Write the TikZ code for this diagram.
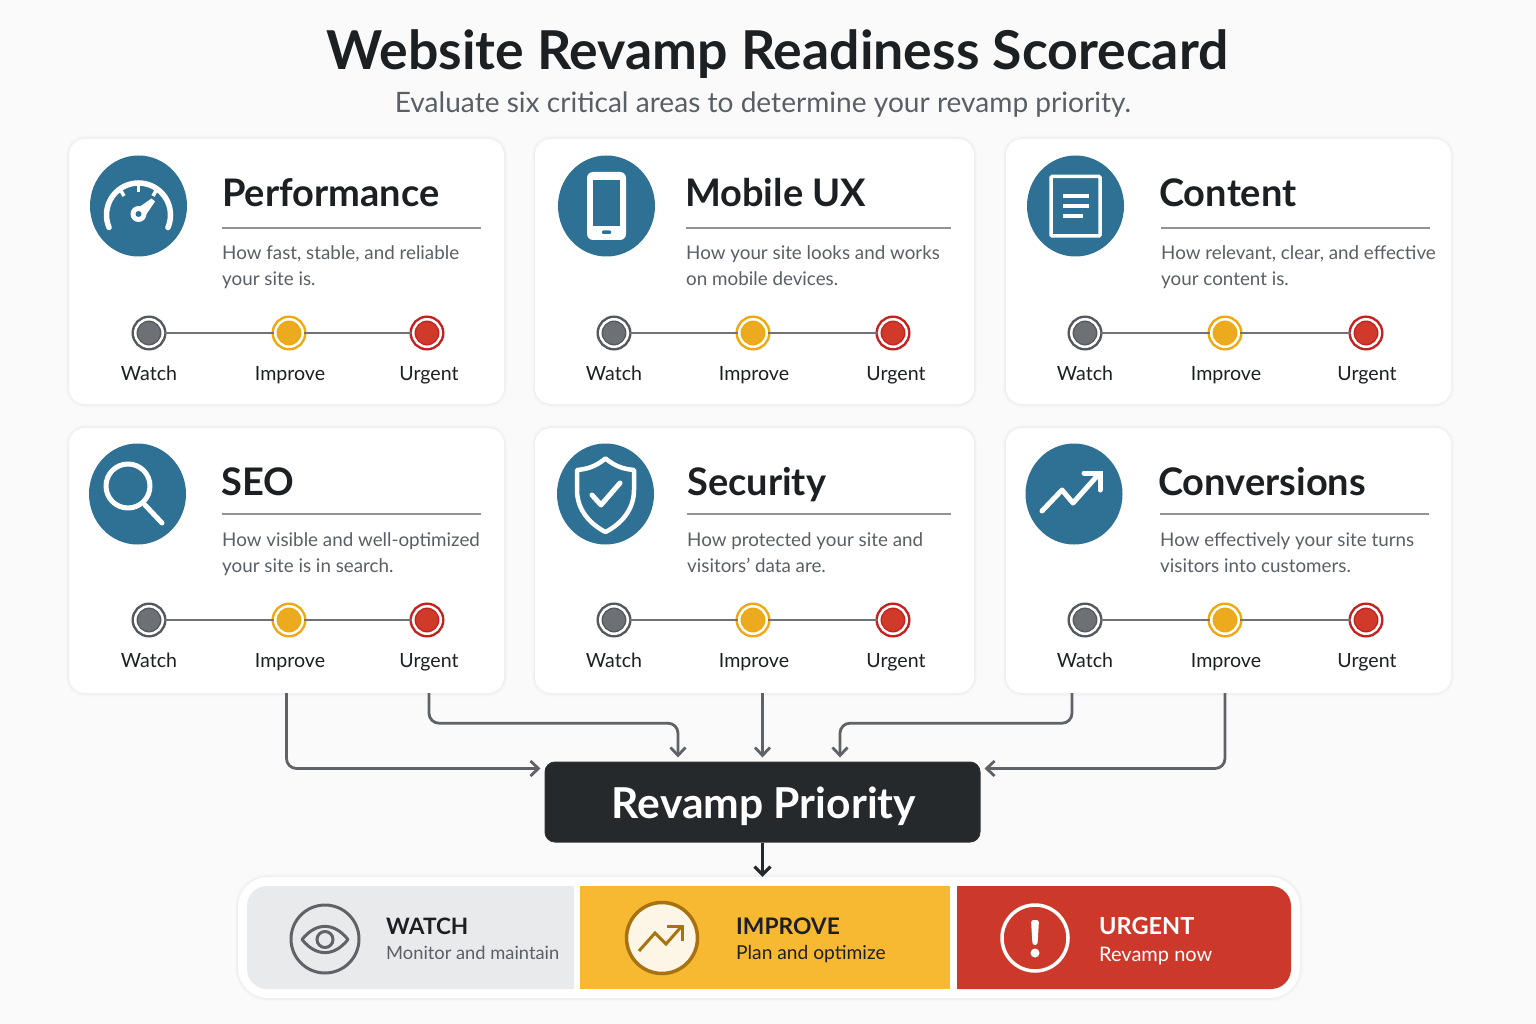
\documentclass[tikz,border=0pt]{standalone}
\usepackage{fontspec}
\setmainfont{Lato}
\usetikzlibrary{arrows.meta,calc,shapes.geometric}
\definecolor{bgc}{HTML}{FAFAFA}
\definecolor{teal}{HTML}{2F7095}
\definecolor{ink}{HTML}{1D2023}
\definecolor{mute}{HTML}{5A5F66}
\definecolor{wire}{HTML}{5F6368}
\definecolor{dark}{HTML}{25292C}
\definecolor{gring}{HTML}{55595E}\definecolor{gfill}{HTML}{6D7074}
\definecolor{yring}{HTML}{EFA80F}\definecolor{yfill}{HTML}{ECAB1F}
\definecolor{rring}{HTML}{C5221F}\definecolor{rfill}{HTML}{CF3A2A}
\definecolor{lgray}{HTML}{E9EAEC}\definecolor{lyellow}{HTML}{F8B932}\definecolor{lred}{HTML}{CC392B}
\definecolor{cream}{HTML}{FDF6E6}\definecolor{ochre}{HTML}{A8720F}
\tikzset{
  softshadow/.style={
    preaction={draw=black,draw opacity=.010,line width=7pt,yshift=-1pt},
    preaction={draw=black,draw opacity=.014,line width=4pt,yshift=-1pt},
    preaction={draw=black,draw opacity=.018,line width=2pt,yshift=-1pt}},
  cardbox/.style={rectangle,fill=white,rounded corners=16pt,inner sep=0pt,softshadow},
  iconbg/.style={ellipse,fill=teal,inner sep=0pt,minimum width=97pt,minimum height=101pt},
  ico/.style={draw=white,line width=#1,line cap=round,line join=round},
  ico/.default=5pt,
  headtxt/.style={anchor=base west,inner sep=0pt,text=ink,font=\fontsize{38}{38}\selectfont\bfseries},
  desctxt/.style={anchor=base west,inner sep=0pt,text=mute,font=\fontsize{18.8}{25.5}\selectfont,align=left},
  rulel/.style={draw=gray!85,line width=1.2pt},
  dotn/.style={circle,inner sep=0pt,minimum size=27.5pt,line width=2.5pt,double=white,double distance=2.5pt},
  scalel/.style={draw=wire!90,line width=2pt},
  statustxt/.style={anchor=base,inner sep=0pt,text=ink,font=\fontsize{19.6}{20}\selectfont},
  flow/.style={draw=wire,line width=2.8pt,rounded corners=10pt,shorten >=4pt,-{Straight Barb[length=8pt,width=15pt,line width=2.8pt]}},
}
\newcommand{\mkcard}[5]{\node[cardbox,minimum width=#4pt-#2pt,minimum height=#5pt-#3pt] (#1) at ({(#2+#4)/2},{(#3+#5)/2}) {};}
\newcommand{\mkhead}[7]{% name, title x, base y, title, rule x1, rule x2, rule y
  \node[headtxt] (#1-t) at (#2,#3) {#4};
  \draw[rulel] (#5,#7) -- (#6,#7);
}
\newcommand{\mkscale}[8]{% name, x1,x2,x3, y, lx1,lx2,lx3
  \node[dotn,draw=gring,fill=none] (#1-w) at (#2,#5) {};
  \node[dotn,draw=yring] (#1-i) at (#3,#5) {};
  \node[dotn,draw=rring] (#1-u) at (#4,#5) {};
  \fill[gfill] (#2,#5) circle (11pt);
  \fill[yfill] (#3,#5) circle (11pt);
  \fill[rfill] (#4,#5) circle (11pt);
  \draw[scalel] (#1-w) -- (#1-i);
  \draw[scalel] (#1-i) -- (#1-u);
  \node[statustxt] (#1-wl) at (#6,#5+47) {Watch};
  \node[statustxt] (#1-il) at (#7,#5+47) {Improve};
  \node[statustxt] (#1-ul) at (#8,#5+47) {Urgent};
}
\begin{document}
\begin{tikzpicture}[x=1pt,y=-1pt]
\useasboundingbox (0,0) rectangle (1536,1024);
\fill[bgc] (0,0) rectangle (1536,1024);
% titles
\node[anchor=base,inner sep=0pt,text=ink,font=\fontsize{53.6}{54}\selectfont\bfseries] (title) at (777.5,70) {Website Revamp Readiness Scorecard};
\node[anchor=base,inner sep=0pt,text=mute,font=\fontsize{28.1}{29}\selectfont] (sub) at (763,112.5) {Evaluate six critical areas to determine your revamp priority.};
% cards
\mkcard{perf}{69}{139}{504}{404}
\mkcard{mob}{535}{139}{974}{404}
\mkcard{cont}{1006}{139}{1451}{404}
\mkcard{seo}{69}{428}{504}{693}
\mkcard{sec}{535}{428}{974}{693}
\mkcard{conv}{1006}{428}{1451}{693}
% icon discs
\node[iconbg] (perf-ic) at (138.5,206) {};
\node[iconbg] (mob-ic) at (606.5,206) {};
\node[iconbg] (cont-ic) at (1075.5,206) {};
\node[iconbg] (seo-ic) at (137.5,494) {};
\node[iconbg] (sec-ic) at (605.5,494) {};
\node[iconbg] (conv-ic) at (1074,494) {};
% heads
\mkhead{perf}{222}{207}{Performance}{222}{481}{228}
\mkhead{mob}{685}{207}{Mobile UX}{686}{951}{228}
\mkhead{cont}{1159}{207}{Content}{1161}{1430}{228}
\mkhead{seo}{221}{495}{SEO}{222}{481}{514}
\mkhead{sec}{687}{495}{Security}{687}{951}{514}
\mkhead{conv}{1158}{495}{Conversions}{1160}{1429}{514}
% descriptions
\node[desctxt] (perf-d) at (222,285) {How fast, stable, and reliable\\your site is.};
\node[desctxt] (mob-d) at (686,285) {How your site looks and works\\on mobile devices.};
\node[desctxt] (cont-d) at (1161,285) {How relevant, clear, and effective\\your content is.};
\node[desctxt] (seo-d) at (222,572) {How visible and well-optimized\\your site is in search.};
\node[desctxt] (sec-d) at (687,572) {How protected your site and\\visitors’ data are.};
\node[desctxt] (conv-d) at (1160,572) {How effectively your site turns\\visitors into customers.};
% scales
\mkscale{perf}{149}{289}{427}{333}{149}{290}{429}
\mkscale{mob}{614}{753}{893}{333}{614}{754}{896}
\mkscale{cont}{1085}{1225}{1366}{333}{1085}{1226}{1367}
\mkscale{seo}{149}{289}{427}{620}{149}{290}{429}
\mkscale{sec}{614}{753}{893}{620}{614}{754}{896}
\mkscale{conv}{1085}{1225}{1366}{620}{1085}{1226}{1367}
% gauge icon
\draw[ico=5.5pt] (138.5,215) ++(23:32) arc (23:-203:32);
\draw[ico=3.5pt,line cap=butt] (138.5,184) -- (138.5,192);
\draw[ico=3.5pt,line cap=butt] (120,189) -- (124,196);
\draw[ico=3.5pt,line cap=butt] (157,189) -- (153,196);
\fill[white] (151.5,198.5) -- (155,201.5) -- (144.5,217) -- (135,210) -- cycle;
\fill[white] (138.5,214) circle (8pt);
\fill[teal] (138.5,214) circle (3pt);
% phone icon
\fill[white,rounded corners=6pt] (587,172) rectangle (626,240);
\fill[teal] (593,180) rectangle (620,226);
\fill[teal,rounded corners=1pt] (602,230.5) rectangle (611,234);
% document icon
\draw[ico=3.5pt,line join=miter,rounded corners=1pt] (1051,176.5) rectangle (1100,236);
\draw[white,line width=4pt] (1063,196) -- (1089,196);
\draw[white,line width=4pt] (1063,206) -- (1089,206);
\draw[white,line width=4pt] (1063,216) -- (1083,216);
% magnifier icon
\draw[ico] (128,486) circle (22pt);
\draw[ico] (145,505) -- (162,523);
% shield icon
\draw[ico=4.5pt] (605.5,458.5) .. controls (595,467) and (587,469) .. (577,470)
  -- (577,490) .. controls (577,510) and (590,524) .. (605.5,532)
  .. controls (621,524) and (634,510) .. (634,490) -- (634,470)
  .. controls (624,469) and (616,467) .. (605.5,458.5) -- cycle;
\draw[ico] (592,495) -- (601,505) -- (620,483);
% growth icon
\draw[ico] (1042,511) -- (1062,490) -- (1073,503) -- (1098,475);
\draw[ico,line join=miter] (1084,473) -- (1100,473) -- (1100,490);
% priority + legend
\node[rectangle,fill=dark,draw=black!80,line width=1pt,rounded corners=10pt,minimum width=435pt,minimum height=80pt,inner sep=0pt] (prio) at (762.5,802) {};
\node[anchor=base,inner sep=0pt,text=white,font=\fontsize{42.6}{44}\selectfont\bfseries] (prio-t) at (764,818) {Revamp Priority};
\node[cardbox,rounded corners=30pt,minimum width=1062pt,minimum height=121pt] (legend) at (769,937.5) {};
\fill[lgray] (574,886) -- (574,989) [rounded corners=20pt] -- (247,989) -- (247,886) [sharp corners] -- cycle;
\fill[lyellow] (580,886) rectangle (950,989);
\fill[lred] (957,886) -- (957,989) [rounded corners=20pt] -- (1291,989) -- (1291,886) [sharp corners] -- cycle;
% legend icons
\draw[wire,line width=3pt] (325,939) circle (34pt);
\draw[wire,line width=3pt,line join=round] (302,939.5) .. controls (316,922) and (334,922) .. (348,939.5) .. controls (334,957) and (316,957) .. (302,939.5) -- cycle;
\draw[wire,line width=3pt] (325,939.5) circle (8pt);
\draw[ochre,fill=cream,line width=3.5pt] (662,938) circle (35.5pt);
\draw[ochre,line width=3pt] (639,951) -- (655,933) -- (666,944) -- (681,927);
\draw[ochre,line width=3pt] (667,926.5) -- (682,926.5) -- (682,941);
\draw[white,line width=3.5pt] (1035,938) circle (33pt);
\fill[white,rounded corners=2.5pt] (1031,920) -- (1039,920) -- (1037.5,945) -- (1032.5,945) -- cycle;
\fill[white] (1035,953) circle (4.5pt);
% legend text
\node[anchor=base west,inner sep=0pt,text=ink,font=\fontsize{22.6}{25}\selectfont\bfseries] (lw) at (386,934) {WATCH};
\node[anchor=base west,inner sep=0pt,text=mute,font=\fontsize{18.3}{20}\selectfont] (lw2) at (386,959) {Monitor and maintain};
\node[anchor=base west,inner sep=0pt,text=ink,font=\fontsize{22.8}{25}\selectfont\bfseries] (li) at (736,934) {IMPROVE};
\node[anchor=base west,inner sep=0pt,text=ink,font=\fontsize{19.2}{20}\selectfont] (li2) at (736,959) {Plan and optimize};
\node[anchor=base west,inner sep=0pt,text=white,font=\fontsize{23.5}{25}\selectfont\bfseries] (lu) at (1099,934) {URGENT};
\node[anchor=base west,inner sep=0pt,text=white,font=\fontsize{20}{20}\selectfont] (lu2) at (1099,961) {Revamp now};
% connectors
\draw[flow] (seo.south) |- ([yshift=-7pt]prio.north west);
\draw[flow] ([xshift=142.5pt]seo.south) -- ++(0,30) -| ([xshift=-84.5pt]prio.north);
\draw[flow] ([xshift=8pt]sec.south) -- (prio.north);
\draw[flow] ([xshift=-156.5pt]conv.south) -- ++(0,30) -| ([xshift=77.5pt]prio.north);
\draw[flow] ([xshift=-3.5pt]conv.south) |- ([yshift=-7pt]prio.north east);
\draw[draw=dark,line width=3.2pt,-{Straight Barb[length=8pt,width=16pt,line width=3.2pt]}] (prio.south) -- (prio.south |- legend.north);
\end{tikzpicture}
\end{document}
